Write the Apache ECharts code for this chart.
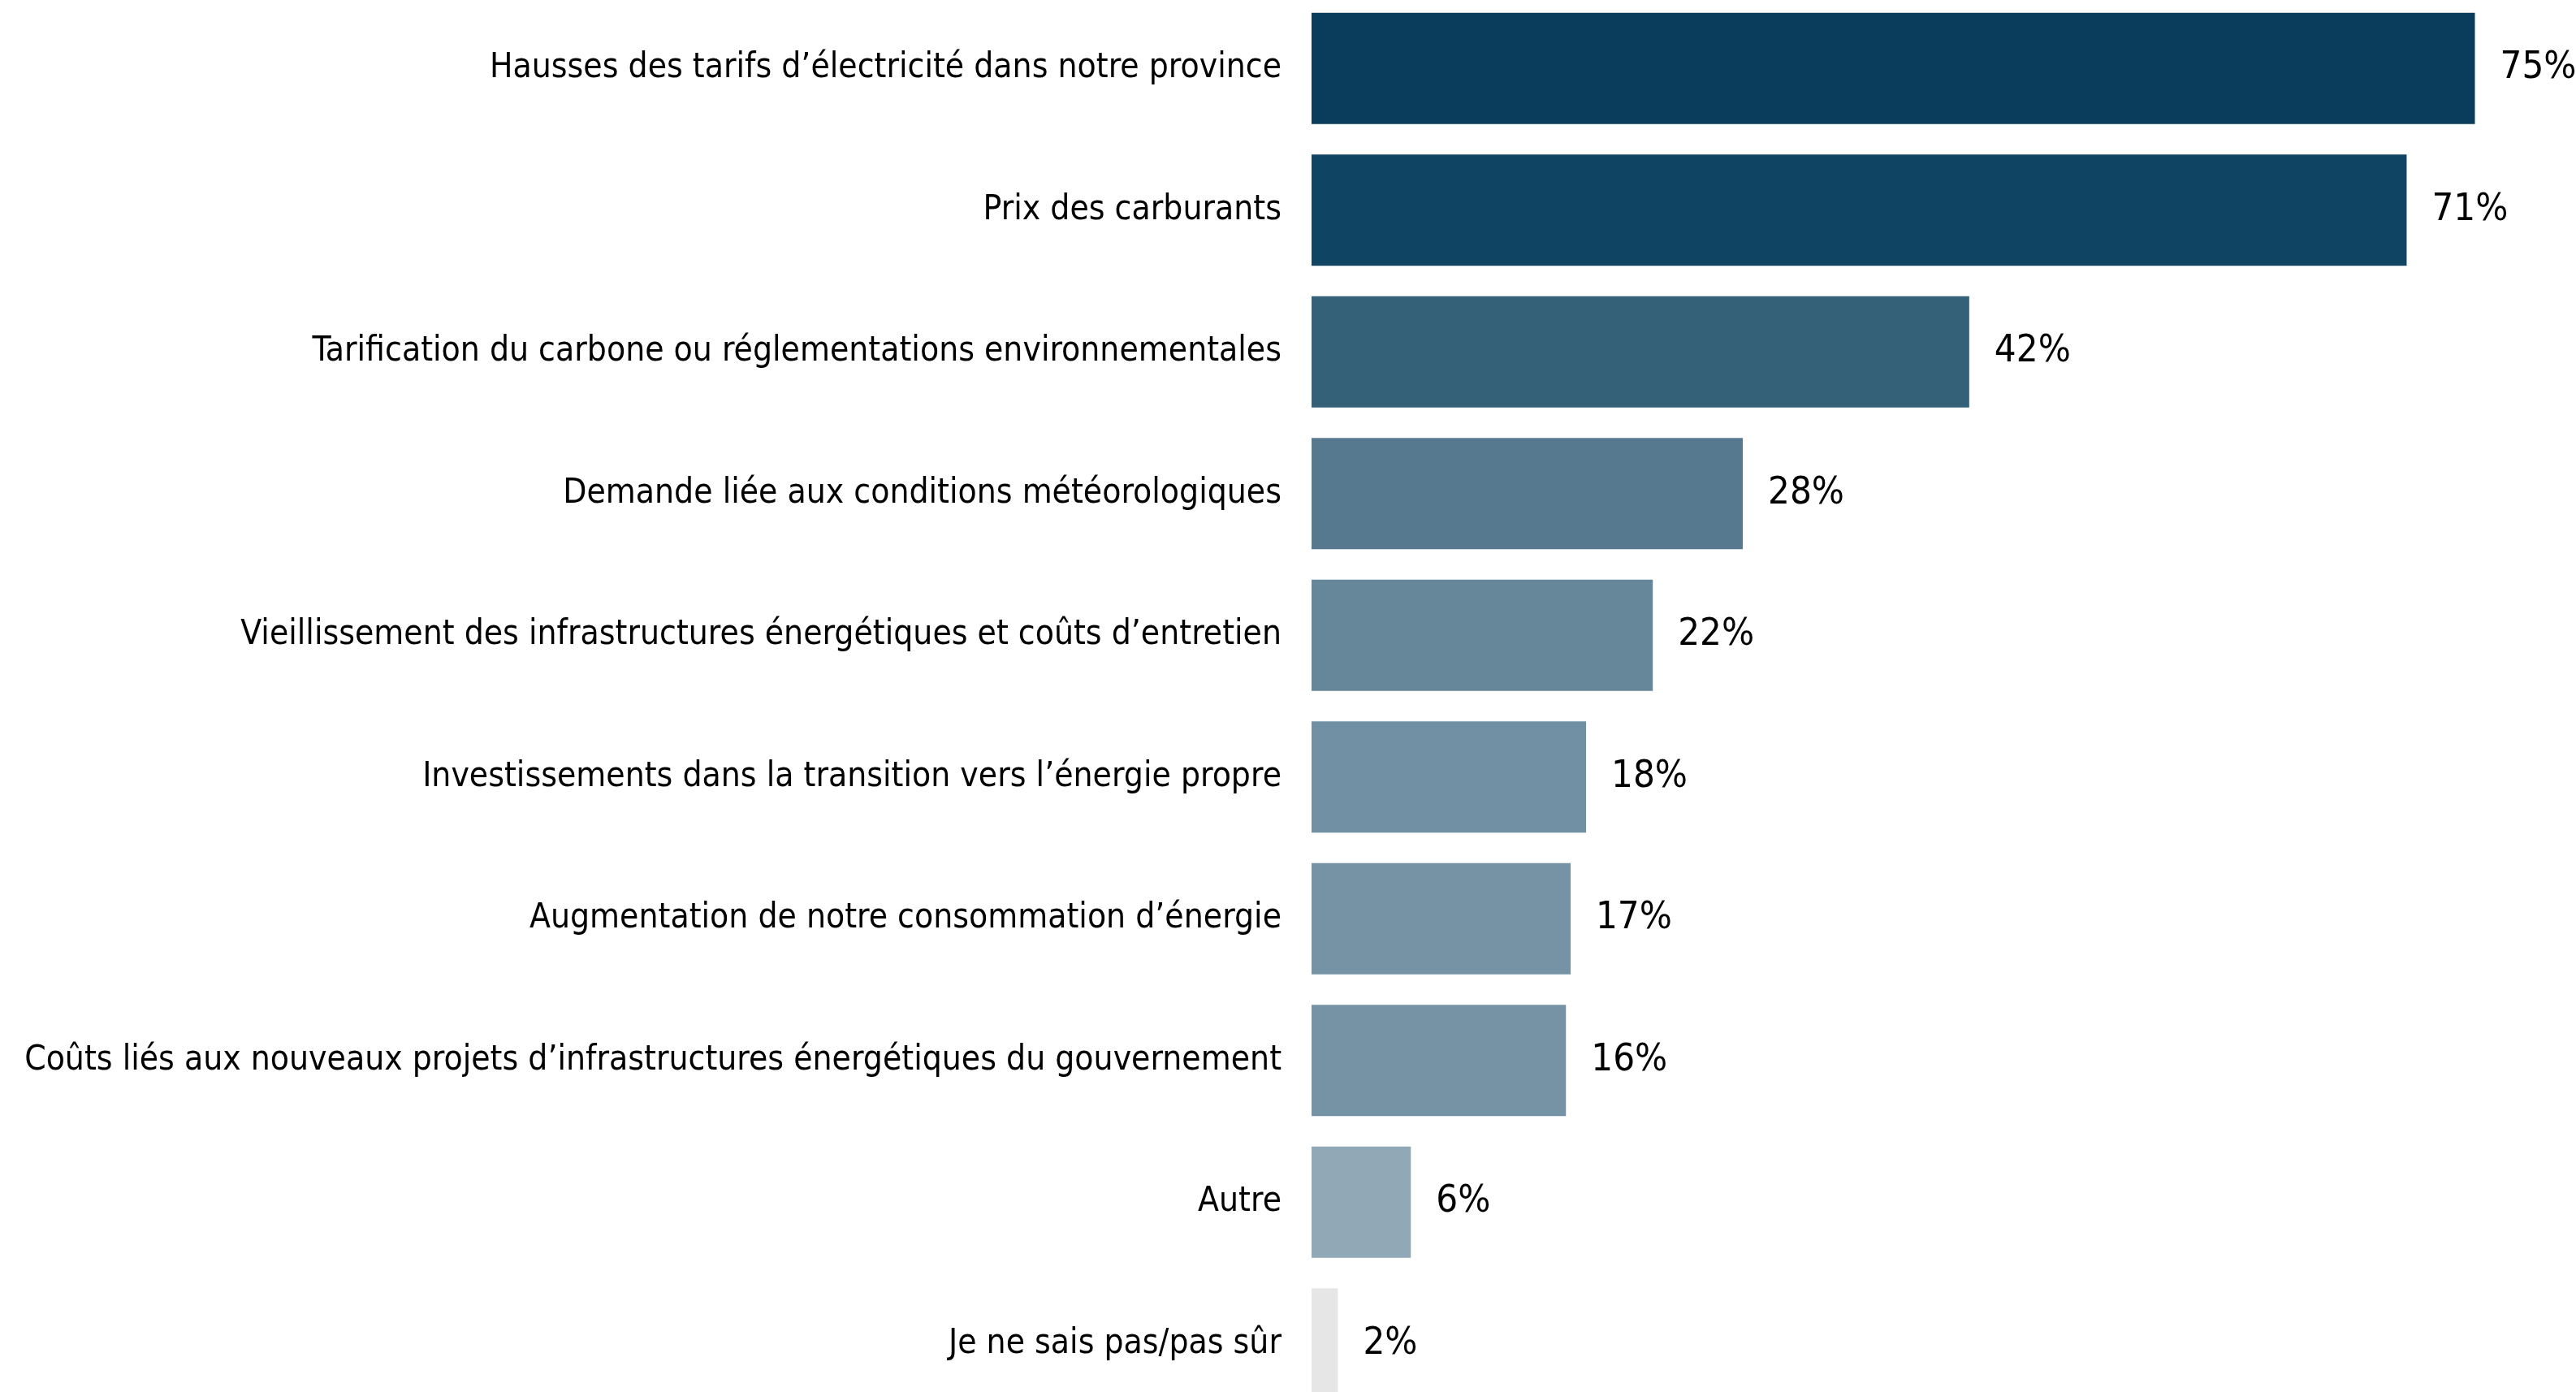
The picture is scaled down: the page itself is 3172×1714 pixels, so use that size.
<!DOCTYPE html>
<html><head><meta charset="utf-8">
<script src="https://cdn.jsdelivr.net/npm/echarts@6/dist/echarts.min.js"></script>
<style>html,body{margin:0;padding:0;background:#fff;overflow:hidden;width:3172px;height:1714px}#c{position:absolute;left:0;top:-3px;width:3172px;height:1745px}</style>
</head><body><div id="c"></div>
<script>
const categories = [
  "Hausses des tarifs d’électricité dans notre province",
  "Prix des carburants",
  "Tarification du carbone ou réglementations environnementales",
  "Demande liée aux conditions météorologiques",
  "Vieillissement des infrastructures énergétiques et coûts d’entretien",
  "Investissements dans la transition vers l’énergie propre",
  "Augmentation de notre consommation d’énergie",
  "Coûts liés aux nouveaux projets d’infrastructures énergétiques du gouvernement",
  "Autre",
  "Je ne sais pas/pas sûr"
];
const values = [75, 70.6, 42.4, 27.8, 22.0, 17.7, 16.7, 16.4, 6.4, 1.7];
const barColors = ["#0a3d5c", "#0f4462", "#346178", "#56798f", "#668799", "#7190a3", "#7593a5", "#7593a5", "#91a8b7", "#e6e6e6"];

const FONT = "'DejaVu Sans Condensed', 'DejaVu Sans', sans-serif";
const chart = echarts.init(document.getElementById('c'));
chart.setOption({
  animation: false,
  backgroundColor: '#ffffff',
  grid: { left: 1615, width: 1528, top: 0, bottom: 0, containLabel: false },
  xAxis: { type: 'value', min: 0, max: 80, show: false },
  yAxis: {
    type: 'category', data: categories, inverse: true,
    axisLine: { show: false }, axisTick: { show: false }, splitLine: { show: false },
    axisLabel: { fontFamily: FONT, fontSize: 42.2, color: '#000', margin: 37 }
  },
  series: [{
    type: 'bar', barWidth: 137,
    data: values.map((v, i) => ({ value: v, itemStyle: { color: barColors[i] } })),
    label: { show: true, position: 'right', distance: 31, formatter: p => Math.round(p.value) + '%', fontFamily: FONT, fontSize: 47, color: '#000' }
  }]
});
</script></body></html>
